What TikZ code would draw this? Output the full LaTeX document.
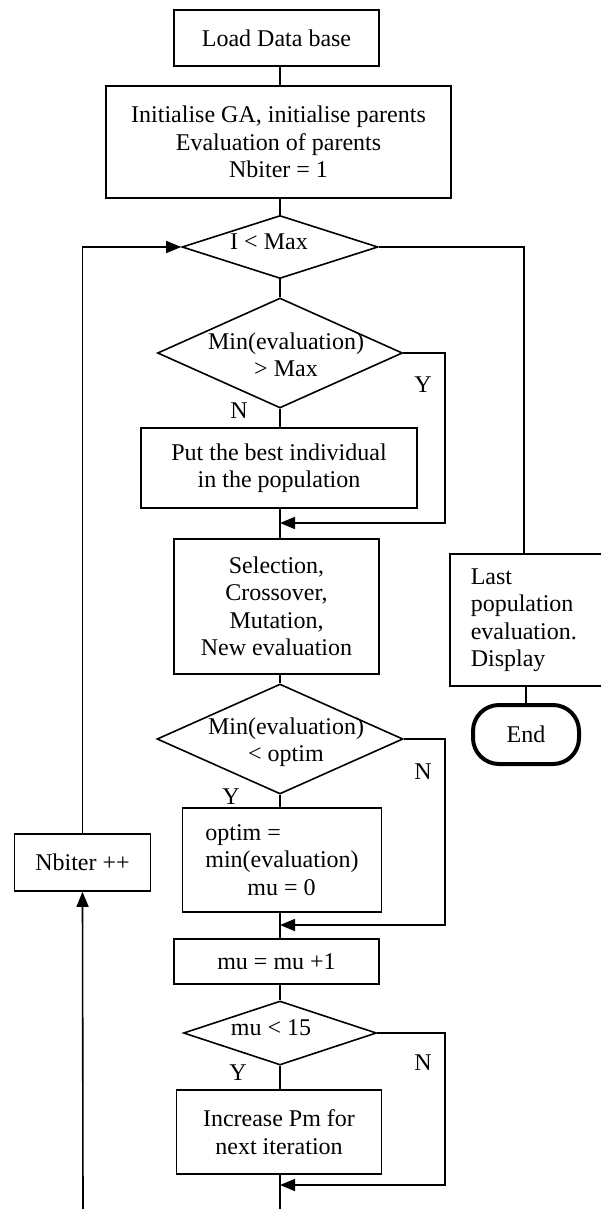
\documentclass[tikz,border=0pt]{standalone}
\usepackage{fontspec}
\setmainfont{Liberation Serif}
\usetikzlibrary{arrows.meta,shapes.geometric}

\begin{document}
\begin{tikzpicture}[x=1pt, y=-1pt, line width=1.6pt, >={Triangle[length=15pt,width=12pt]},
	every node/.style={font=\fontsize{24}{27.5}\selectfont},
	box/.style={draw, align=center, inner sep=0pt},
	dec/.style={draw, diamond, inner sep=0pt},
	txt/.style={align=center, inner sep=0pt},
	yn/.style={inner sep=0pt},
	term/.style={draw, rounded corners=26pt, line width=4pt, inner sep=0pt}]

	\useasboundingbox (0,0) rectangle (600,1209);

	\coordinate (sp) at (280,0); % main line
	\coordinate (rx) at (524,0); % exit line
	\coordinate (bot) at (280,1209);
	\coordinate (lb) at (83,1209);

	% boxes of the main line
	\node[box, minimum width=205pt, minimum height=56pt] (load) at (276.5,38) {Load Data base};
	\node[box, minimum width=345pt, minimum height=112pt] (init) at (278.5,142)
	{Initialise GA, initialise parents\\Evaluation of parents\\Nbiter = 1};
	\node[box, minimum width=276pt, minimum height=80pt] (best) at (279,468)
	{Put the best individual\\in the population};
	\node[box, minimum width=205pt, minimum height=135pt] (sel) at (276.5,606.5)
	{Selection,\\Crossover,\\Mutation,\\New evaluation};
	\node[box, align=left, minimum width=199pt, minimum height=104pt] (optim) at (282,860)
	{optim =\\min(evaluation)\\\hspace*{42pt}mu = 0};
	\node[box, minimum width=205pt, minimum height=45pt] (mu) at (276.5,961.5) {mu = mu +1};
	\node[box, minimum width=205pt, minimum height=84pt] (inc) at (279,1132)
	{Increase Pm for\\next iteration};

	% tests
	\node[dec, minimum width=196pt, minimum height=63pt] (d1) at (280,247) {};
	\node[txt] (d1t) at (269,242) {I < Max};
	\node[dec, minimum width=245pt, minimum height=110pt] (d2) at (280,353) {};
	\node[txt] (d2t) at (286,355) {Min(evaluation)\\> Max};
	\node[dec, minimum width=246pt, minimum height=110pt] (d3) at (280,739) {};
	\node[txt] (d3t) at (286,742) {Min(evaluation)\\< optim};
	\node[dec, minimum width=193pt, minimum height=64pt] (d4) at (280,1033) {};
	\node[txt] (d4t) at (271,1028) {mu < 15};

	% side boxes
	\node[box, align=left, anchor=west, text width=118pt, inner xsep=21pt, minimum height=132pt] (last) at (449,620)
	{Last\\population\\evaluation.\\Display};
	\node[box, minimum width=136pt, minimum height=57pt] (nbiter) at (82.5,862.5) {Nbiter ++};
	\node[term, minimum width=106pt, minimum height=59pt] (en) at (526,734.5) {End};

	% Y / N
	\node[yn] (y2) at (423,385) {Y};
	\node[yn] (n2) at (239,411) {N};
	\node[yn] (n3) at (423,772) {N};
	\node[yn] (y3) at (231,797) {Y};
	\node[yn] (n4) at (423,1063) {N};
	\node[yn] (y4) at (238,1073) {Y};

	% joins on the main line
	\coordinate (j1) at (280,523);
	\coordinate (j2) at (280,925);
	\coordinate (j3) at (280,1185);
	\coordinate (r1) at (445,523);
	\coordinate (r2) at (445,925);
	\coordinate (r3) at (445,1185);

	% main line
	\draw (load.south -| sp) -- (init.north -| sp);
	\draw (init.south -| sp) -- (d1.north);
	\draw (d1.south) -- (d2.north);
	\draw (d2.south) -- (best.north -| sp);
	\draw (best.south -| sp) -- (sel.north -| sp);
	\draw (sel.south -| sp) -- (d3.north);
	\draw (d3.south) -- (optim.north -| sp);
	\draw (optim.south -| sp) -- (mu.north -| sp);
	\draw (mu.south -| sp) -- (d4.north);
	\draw (d4.south) -- (inc.north -| sp);
	\draw (inc.south -| sp) -- (bot);

	% by-passes
	\draw[->] (d2.east) -| (r1) -- (j1);
	\draw[->] (d3.east) -| (r2) -- (j2);
	\draw[->] (d4.east) -| (r3) -- (j3);

	% loop back
	\draw[->] (lb) -- (nbiter.south);
	\draw[->] (nbiter.north) |- (d1.west);

	% exit
	\draw (d1.east) -| (last.north -| rx);
	\draw (last.south -| en) -- (en.north);

\end{tikzpicture}
\end{document}
